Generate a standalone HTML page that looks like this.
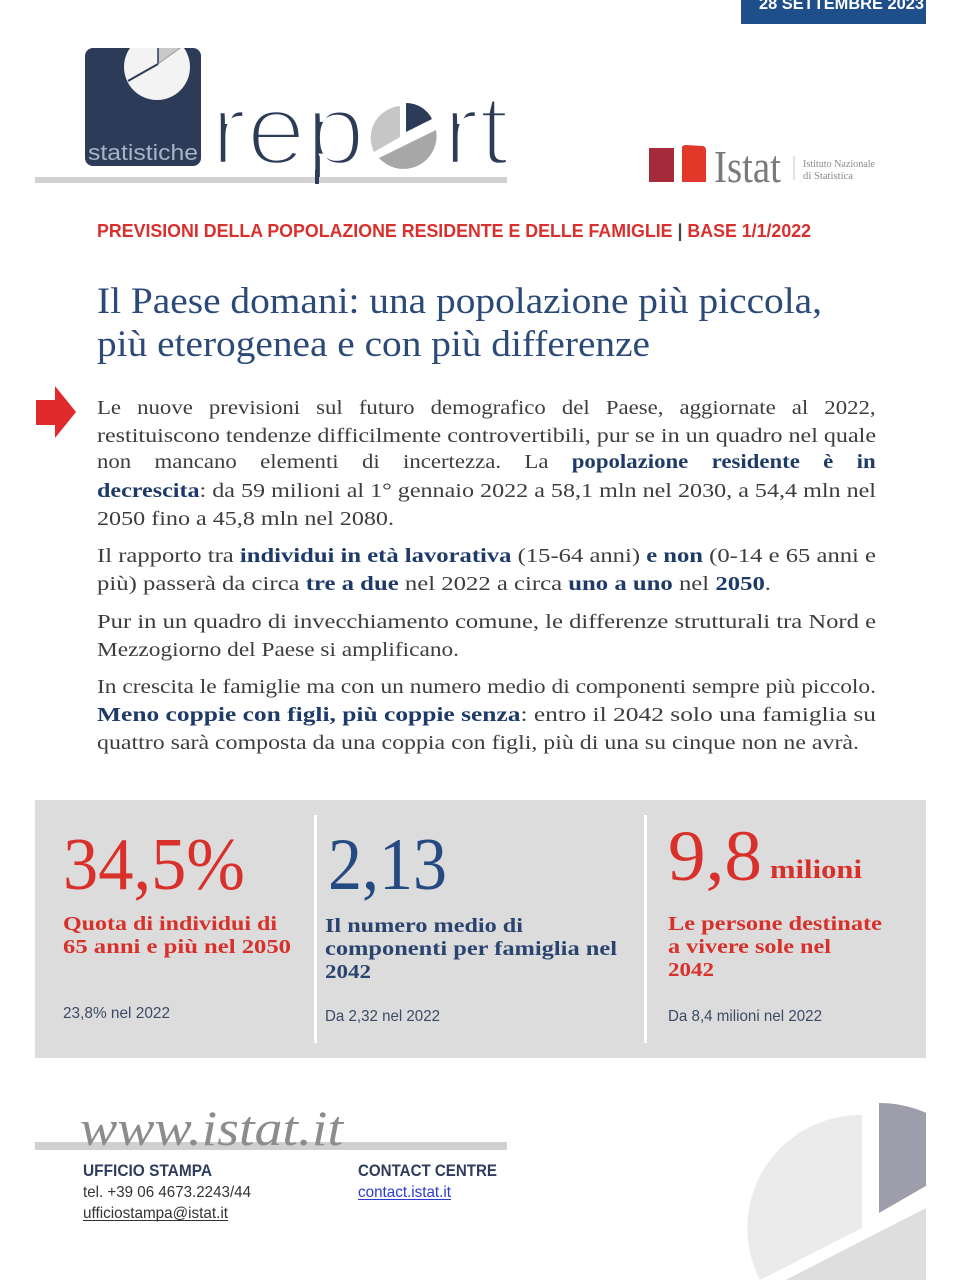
<!DOCTYPE html>
<html><head><meta charset="utf-8"><style>
html,body{margin:0;padding:0;background:#fff;}
body{position:relative;width:960px;height:1280px;overflow:hidden;}
svg{display:block;position:absolute;left:0;top:0;}
.jl{position:absolute;left:97px;width:683px;font-family:"Liberation Serif",serif;font-size:20px;line-height:20px;color:#3d3d3d;text-align:justify;text-align-last:justify;margin:0;padding:0;transform:scaleX(1.14);transform-origin:0 0;}
.jl b{color:#1e3a68;}
</style></head><body>
<svg width="960" height="1280" viewBox="0 0 960 1280" xmlns="http://www.w3.org/2000/svg">
<defs>
<clipPath id="sq"><rect x="85" y="48" width="116" height="118" rx="8"/></clipPath>
<clipPath id="br"><rect x="600" y="1090" width="326" height="190"/></clipPath>
</defs>
<rect width="960" height="1280" fill="#fff"/>

<!-- date box -->
<rect x="741" y="0" width="185" height="24" fill="#1f4f8a"/>
<text x="759" y="9" font-family="Liberation Sans, sans-serif" font-weight="bold" font-size="17" fill="#fff" textLength="165" lengthAdjust="spacingAndGlyphs">28 SETTEMBRE 2023</text>

<!-- logo square -->
<rect x="85" y="48" width="116" height="118" rx="8" fill="#2c3b57"/>
<g clip-path="url(#sq)">
<circle cx="157" cy="67" r="33" fill="#f3f3f3"/>
<path d="M158 64 L158 30 L190 42 Z" fill="#c9c9c9"/>
<line x1="158" y1="64" x2="158" y2="46" stroke="#2c3b57" stroke-width="1.5"/>
<line x1="158" y1="64" x2="128" y2="81" stroke="#2c3b57" stroke-width="2"/>
<line x1="158" y1="64" x2="180" y2="48" stroke="#9a9a9a" stroke-width="1"/>
</g>
<text x="88" y="160" font-family="Liberation Sans, sans-serif" font-size="22" fill="#a9b3c6" textLength="110" lengthAdjust="spacingAndGlyphs">statistiche</text>

<!-- report -->
<text x="211" y="164" font-family="Liberation Sans, sans-serif" font-size="100" fill="#2c3b57" stroke="#fff" stroke-width="4.5" textLength="154" lengthAdjust="spacingAndGlyphs">rep</text>
<text x="443" y="164" font-family="Liberation Sans, sans-serif" font-size="100" fill="#2c3b57" stroke="#fff" stroke-width="4.5" textLength="66" lengthAdjust="spacingAndGlyphs">rt</text>
<rect x="35" y="177" width="472" height="6" fill="#d2d2d2"/>
<rect x="315" y="170" width="4" height="14" fill="#2c3b57"/>

<path d="M400 137 L400 106 A32 32 0 0 0 374 152 Z" fill="#c6c6c6"/>
<path d="M379 158 L436 130 A33 33 0 0 1 379 158 Z" fill="#a7a7a7"/>
<path d="M406 132 L406 103 A29 29 0 0 1 432 119 Z" fill="#2c3b57"/>

<!-- Istat logo -->
<rect x="649" y="148" width="25" height="34" fill="#a52a3a"/>
<path d="M682 147 Q683 145 686 145 L703 146 Q706 147 706 150 L706 182 L682 182 Z" fill="#e2382a"/>
<text x="714" y="182" font-family="Liberation Serif, serif" font-size="46" fill="#7a7a7a" textLength="67" lengthAdjust="spacingAndGlyphs">Istat</text>
<line x1="794" y1="156" x2="794" y2="180" stroke="#c4c4c4" stroke-width="1"/>
<text x="803" y="167" font-family="Liberation Serif, serif" font-size="10" fill="#8a8a8a" textLength="72" lengthAdjust="spacingAndGlyphs">Istituto Nazionale</text>
<text x="803" y="179" font-family="Liberation Serif, serif" font-size="10" fill="#8a8a8a" textLength="50" lengthAdjust="spacingAndGlyphs">di Statistica</text>

<!-- red heading -->
<text x="97" y="237" font-family="Liberation Sans, sans-serif" font-weight="bold" font-size="18" fill="#d8302c" textLength="714" lengthAdjust="spacingAndGlyphs">PREVISIONI DELLA POPOLAZIONE RESIDENTE E DELLE FAMIGLIE <tspan fill="#444">|</tspan> BASE 1/1/2022</text>

<!-- title -->
<text x="97" y="313" font-family="Liberation Serif, serif" font-size="37" fill="#2b4a78" textLength="725" lengthAdjust="spacingAndGlyphs">Il Paese domani: una popolazione più piccola,</text>
<text x="97" y="356" font-family="Liberation Serif, serif" font-size="37" fill="#2b4a78" textLength="553" lengthAdjust="spacingAndGlyphs">più eterogenea e con più differenze</text>

<!-- arrow -->
<path d="M36 400 L55 400 L55 386 L76 412 L55 438 L55 425 L36 425 Z" fill="#e0292a"/>

<!-- body -->
<g font-family="Liberation Serif, serif" font-size="20" fill="#3d3d3d">
<text x="97" y="442" textLength="779" lengthAdjust="spacingAndGlyphs">restituiscono tendenze difficilmente controvertibili, pur se in un quadro nel quale</text>
<text x="97" y="497" textLength="779" lengthAdjust="spacingAndGlyphs"><tspan font-weight="bold" fill="#1e3a68">decrescita</tspan>: da 59 milioni al 1° gennaio 2022 a 58,1 mln nel 2030, a 54,4 mln nel</text>
<text x="97" y="525" textLength="297" lengthAdjust="spacingAndGlyphs">2050 fino a 45,8 mln nel 2080.</text>

<text x="97" y="562" textLength="779" lengthAdjust="spacingAndGlyphs">Il rapporto tra <tspan font-weight="bold" fill="#1e3a68">individui in età lavorativa</tspan> (15-64 anni) <tspan font-weight="bold" fill="#1e3a68">e non</tspan> (0-14 e 65 anni e</text>
<text x="97" y="590" textLength="674" lengthAdjust="spacingAndGlyphs">più) passerà da circa <tspan font-weight="bold" fill="#1e3a68">tre a due</tspan> nel 2022 a circa <tspan font-weight="bold" fill="#1e3a68">uno a uno</tspan> nel <tspan font-weight="bold" fill="#1e3a68">2050</tspan>.</text>

<text x="97" y="628" textLength="779" lengthAdjust="spacingAndGlyphs">Pur in un quadro di invecchiamento comune, le differenze strutturali tra Nord e</text>
<text x="97" y="656" textLength="362" lengthAdjust="spacingAndGlyphs">Mezzogiorno del Paese si amplificano.</text>

<text x="97" y="693" textLength="779" lengthAdjust="spacingAndGlyphs">In crescita le famiglie ma con un numero medio di componenti sempre più piccolo.</text>
<text x="97" y="721" textLength="779" lengthAdjust="spacingAndGlyphs"><tspan font-weight="bold" fill="#1e3a68">Meno coppie con figli, più coppie senza</tspan>: entro il 2042 solo una famiglia su</text>
<text x="97" y="749" textLength="762" lengthAdjust="spacingAndGlyphs">quattro sarà composta da una coppia con figli, più di una su cinque non ne avrà.</text>
</g>

<!-- stats box -->
<rect x="35" y="800" width="891" height="258" fill="#dcdcdc"/>
<rect x="314" y="815" width="3" height="228" fill="#fff"/>
<rect x="644" y="815" width="3" height="228" fill="#fff"/>

<g font-family="Liberation Serif, serif">
<text x="63" y="889" font-size="74" fill="#d8302a" textLength="182" lengthAdjust="spacingAndGlyphs">34,5%</text>
<text x="328" y="889" font-size="74" fill="#254a82" textLength="119" lengthAdjust="spacingAndGlyphs">2,13</text>
<text x="668" y="880" font-size="72" fill="#d8302a" textLength="94" lengthAdjust="spacingAndGlyphs">9,8</text>
<text x="770" y="878" font-size="26" font-weight="bold" fill="#d8302a" textLength="92" lengthAdjust="spacingAndGlyphs">milioni</text>

<g font-size="20" font-weight="bold">
<text x="63" y="930" fill="#d8302a" textLength="214" lengthAdjust="spacingAndGlyphs">Quota di individui di</text>
<text x="63" y="953" fill="#d8302a" textLength="228" lengthAdjust="spacingAndGlyphs">65 anni e più nel 2050</text>
<text x="325" y="932" fill="#2a4470" textLength="198" lengthAdjust="spacingAndGlyphs">Il numero medio di</text>
<text x="325" y="955" fill="#2a4470" textLength="292" lengthAdjust="spacingAndGlyphs">componenti per famiglia nel</text>
<text x="325" y="978" fill="#2a4470" textLength="46" lengthAdjust="spacingAndGlyphs">2042</text>
<text x="668" y="930" fill="#d8302a" textLength="214" lengthAdjust="spacingAndGlyphs">Le persone destinate</text>
<text x="668" y="953" fill="#d8302a" textLength="163" lengthAdjust="spacingAndGlyphs">a vivere sole nel</text>
<text x="668" y="976" fill="#d8302a" textLength="46" lengthAdjust="spacingAndGlyphs">2042</text>
</g>
</g>
<g font-family="Liberation Sans, sans-serif" font-size="16" fill="#3c4a66">
<text x="63" y="1018" textLength="107" lengthAdjust="spacingAndGlyphs">23,8% nel 2022</text>
<text x="325" y="1021" textLength="115" lengthAdjust="spacingAndGlyphs">Da 2,32 nel 2022</text>
<text x="668" y="1021" textLength="154" lengthAdjust="spacingAndGlyphs">Da 8,4 milioni nel 2022</text>
</g>

<!-- footer -->
<rect x="35" y="1142" width="472" height="8" fill="#d0d0d0"/>
<text x="80" y="1145" font-family="Liberation Serif, serif" font-style="italic" font-size="50" fill="#8c8c8c" textLength="263" lengthAdjust="spacingAndGlyphs">www.istat.it</text>
<g font-family="Liberation Sans, sans-serif">
<text x="83" y="1176" font-size="17" font-weight="bold" fill="#2e3d5c" textLength="129" lengthAdjust="spacingAndGlyphs">UFFICIO STAMPA</text>
<text x="83" y="1197" font-size="16" fill="#333" textLength="168" lengthAdjust="spacingAndGlyphs">tel. +39 06 4673.2243/44</text>
<text x="83" y="1218" font-size="16" fill="#333" textLength="145" lengthAdjust="spacingAndGlyphs">ufficiostampa@istat.it</text>
<rect x="83" y="1220" width="145" height="1" fill="#333"/>
<text x="358" y="1176" font-size="17" font-weight="bold" fill="#2e3d5c" textLength="139" lengthAdjust="spacingAndGlyphs">CONTACT CENTRE</text>
<text x="358" y="1197" font-size="16" fill="#2b3bd0" textLength="93" lengthAdjust="spacingAndGlyphs">contact.istat.it</text>
<rect x="358" y="1199" width="93" height="1" fill="#2b3bd0"/>
</g>

<!-- bottom-right pie -->
<g clip-path="url(#br)">
<path d="M862 1228 L862 1115 A113 113 0 0 0 760 1280 Z" fill="#ebebeb"/>
<path d="M879 1213 L879 1103 A112 112 0 0 1 976 1157 Z" fill="#9d9dab"/>
<path d="M1000 1170 L770 1288 L1000 1288 Z" fill="#dedede"/>
</g>
</svg>

<div class="jl" style="top:398px;">Le nuove previsioni sul futuro demografico del Paese, aggiornate al 2022,</div>
<div class="jl" style="top:452px;">non mancano elementi di incertezza. La <b>popolazione residente è in</b></div>
</body></html>
